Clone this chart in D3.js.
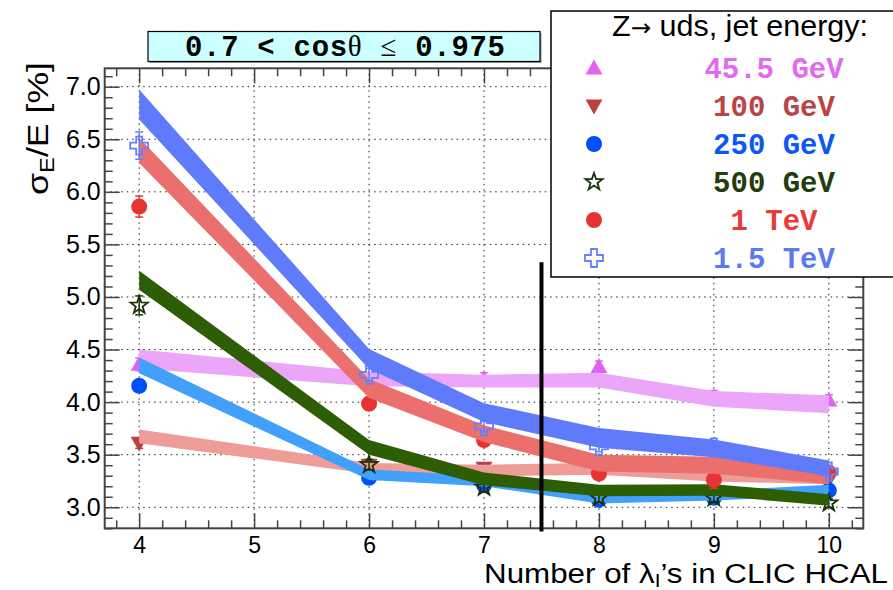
<!DOCTYPE html>
<html><head><meta charset="utf-8">
<script src="https://cdn.jsdelivr.net/npm/d3@7"></script>
<style>body{margin:0;background:#fff;} svg{display:block;}</style>
</head><body>
<svg id="c" width="893" height="590"></svg>
<script>
// ---------------- data ----------------
const xs = [4, 6, 7, 8, 9, 10];
const energyLabels = ["45.5 GeV", "100 GeV", "250 GeV", "500 GeV", "1 TeV", "1.5 TeV"];

// measured points (markers) and their errors
const pts45   = [4.36, 4.18, 4.22, 4.34, 4.05, 4.02];
const pts100  = [3.61, 3.40, 3.37, 3.33, 3.29, 3.26];
const pts250  = [4.155, 3.28, 3.21, 3.07, 3.09, 3.16];
const pts500  = [4.92, 3.405, 3.19, 3.09, 3.09, 3.04];
const pts1000 = [5.86, 3.985, 3.64, 3.32, 3.26, 3.33];
const pts1500 = [6.44, 4.26, 3.77, 3.58, 3.57, 3.34];

const err45   = [0.06, 0.05, 0.06, 0.05, 0.06, 0.05];
const err100  = [0.05, 0.04, 0.04, 0.04, 0.04, 0.04];
const err250  = [0.05, 0.04, 0.04, 0.04, 0.04, 0.04];
const err500  = [0.09, 0.05, 0.04, 0.04, 0.04, 0.04];
const err1000 = [0.10, 0.06, 0.05, 0.05, 0.08, 0.05];
const err1500 = [0.13, 0.06, 0.05, 0.05, 0.05, 0.05];

// bands: centre values and half widths
const band45   = [4.41, 4.22, 4.20, 4.21, 4.03, 3.98];
const hw45     = [0.09, 0.07, 0.06, 0.07, 0.075, 0.085];
const band100  = [3.675, 3.37, 3.35, 3.365, 3.30, 3.27];
const hw100    = [0.065, 0.05, 0.055, 0.055, 0.055, 0.05];
const band250  = [4.35, 3.31, 3.25, 3.08, 3.11, 3.165];
const hw250    = [0.075, 0.05, 0.05, 0.045, 0.045, 0.05];
const band500  = [5.16, 3.57, 3.27, 3.16, 3.165, 3.07];
const hw500    = [0.09, 0.07, 0.06, 0.055, 0.055, 0.055];
const band1000 = [6.395, 4.13, 3.70, 3.42, 3.40, 3.29];
const hw1000   = [0.12, 0.09, 0.08, 0.08, 0.08, 0.07];
const band1500 = [6.83, 4.41, 3.90, 3.66, 3.56, 3.37];
const hw1500   = [0.143, 0.095, 0.09, 0.095, 0.085, 0.075];

const xTicks = [4, 5, 6, 7, 8, 9, 10];
const yTicks = [3.0, 3.5, 4.0, 4.5, 5.0, 5.5, 6.0, 6.5, 7.0];
const yTickLabels = ["3.0", "3.5", "4.0", "4.5", "5.0", "5.5", "6.0", "6.5", "7.0"];

const cutX = 7.5, cutTop = 5.33, cutBottom = 2.77;

// ---------------- styles ----------------
const series = [
  {pts: pts45,   err: err45,   band: band45,   hw: hw45,   marker: "tri",   mc: "#e262f2", bc: "#eba6f9", tc: "#e26af0"},
  {pts: pts100,  err: err100,  band: band100,  hw: hw100,  marker: "itri",  mc: "#b94141", bc: "#ee9c98", tc: "#b84646"},
  {pts: pts250,  err: err250,  band: band250,  hw: hw250,  marker: "circ",  mc: "#0050f8", bc: "#40a0fa", tc: "#0d58f2"},
  {pts: pts500,  err: err500,  band: band500,  hw: hw500,  marker: "star",  mc: "#1a3208", bc: "#2d5e06", tc: "#233d0c"},
  {pts: pts1000, err: err1000, band: band1000, hw: hw1000, marker: "circ",  mc: "#e63434", bc: "#eb6f6c", tc: "#e83a3a"},
  {pts: pts1500, err: err1500, band: band1500, hw: hw1500, marker: "cross", mc: "#6680ff", bc: "#5f7bfb", tc: "#5c79f2"}
];

const svg = d3.select("#c");
const x = d3.scaleLinear().domain([3.7, 10.3]).range([104.7, 863.3]);
const y = d3.scaleLinear().domain([2.8, 7.175]).range([528.3, 68.3]);
const [X0, X1] = x.range(), [Y0, Y1] = y.range();

// grid
const grid = svg.append("g").attr("stroke", "#222").attr("stroke-width", 1).attr("stroke-dasharray", "1.5,4");
grid.selectAll(".gx").data(xTicks).join("line")
  .attr("x1", d => x(d)).attr("x2", d => x(d)).attr("y1", Y1).attr("y2", Y0);
grid.selectAll(".gy").data(yTicks).join("line")
  .attr("y1", d => y(d)).attr("y2", d => y(d)).attr("x1", X0).attr("x2", X1);

// axes
const xMinor = d3.range(3.8, 10.25, 0.2).filter(v => Math.abs(v - Math.round(v)) > 0.01);
const yMinor = d3.range(2.8, 7.15, 0.1).filter(v => Math.abs(v * 2 - Math.round(v * 2)) > 0.01);
const tickCol = "#444";
const sans = "'Liberation Sans', Arial, sans-serif";
function styleAxis(size) {
  return g => {
    g.select(".domain").remove();
    g.selectAll("line").attr("stroke", tickCol).attr("stroke-width", 1.5);
    g.selectAll("text").attr("font-family", sans).attr("font-size", size).attr("fill", "#000");
  };
}
svg.append("g").attr("transform", `translate(0,${Y0})`)
  .call(d3.axisBottom(x).tickValues(xTicks).tickFormat(d3.format("d")).tickSizeInner(-15).tickSizeOuter(0).tickPadding(8)).call(styleAxis(23));
svg.append("g").attr("transform", `translate(0,${Y0})`)
  .call(d3.axisBottom(x).tickValues(xMinor).tickFormat("").tickSizeInner(-8).tickSizeOuter(0)).call(styleAxis(23));
svg.append("g").attr("transform", `translate(0,${Y1})`)
  .call(d3.axisTop(x).tickValues(xTicks).tickFormat("").tickSizeInner(-15).tickSizeOuter(0)).call(styleAxis(23));
svg.append("g").attr("transform", `translate(0,${Y1})`)
  .call(d3.axisTop(x).tickValues(xMinor).tickFormat("").tickSizeInner(-8).tickSizeOuter(0)).call(styleAxis(23));
svg.append("g").attr("transform", `translate(${X0},0)`)
  .call(d3.axisLeft(y).tickValues(yTicks).tickFormat((d, i) => yTickLabels[i]).tickSizeInner(-15).tickSizeOuter(0).tickPadding(4)).call(styleAxis(25));
svg.append("g").attr("transform", `translate(${X0},0)`)
  .call(d3.axisLeft(y).tickValues(yMinor).tickFormat("").tickSizeInner(-8).tickSizeOuter(0)).call(styleAxis(25));
svg.append("g").attr("transform", `translate(${X1},0)`)
  .call(d3.axisRight(y).tickValues(yTicks).tickFormat("").tickSizeInner(-15).tickSizeOuter(0)).call(styleAxis(25));
svg.append("g").attr("transform", `translate(${X1},0)`)
  .call(d3.axisRight(y).tickValues(yMinor).tickFormat("").tickSizeInner(-8).tickSizeOuter(0)).call(styleAxis(25));

// marker shapes
function markerPath(type) {
  if (type === "tri") return "M0,-8.5L8.5,6.5L-8.5,6.5Z";
  if (type === "itri") return "M0,8.5L8.5,-6.5L-8.5,-6.5Z";
  if (type === "circ") return d3.symbol(d3.symbolCircle, Math.PI * 8 * 8)();
  if (type === "cross") return "M-3,-9H3V-3H9V3H3V9H-3V3H-9V-3H-3Z";
  if (type === "star") {
    const p = [];
    for (let k = 0; k < 10; k++) {
      const r = k % 2 ? 3.6 : 9, a = -Math.PI / 2 + k * Math.PI / 5;
      p.push([r * Math.cos(a), r * Math.sin(a)]);
    }
    return "M" + p.map(q => q.join(",")).join("L") + "Z";
  }
}
function drawMarker(g, type, col, cx, cy) {
  const open = type === "star" || type === "cross";
  g.append("path").attr("d", markerPath(type)).attr("transform", `translate(${cx},${cy})`)
    .attr("fill", open ? "none" : col).attr("stroke", open ? col : "none").attr("stroke-width", open ? 1.8 : 0);
}

const area = d3.area().x(d => x(d.x)).y0(d => y(d.c - d.h)).y1(d => y(d.c + d.h));
const plot = svg.append("g");
series.forEach(s => {
  const g = plot.append("g");
  xs.forEach((xv, i) => {
    const cx = x(xv), v = s.pts[i], e = s.err[i];
    g.append("line").attr("x1", cx).attr("x2", cx).attr("y1", y(v - e)).attr("y2", y(v + e)).attr("stroke", s.mc).attr("stroke-width", 1.5);
    [v - e, v + e].forEach(t => g.append("line").attr("x1", cx - 4).attr("x2", cx + 4).attr("y1", y(t)).attr("y2", y(t)).attr("stroke", s.mc).attr("stroke-width", 1.5));
    drawMarker(g, s.marker, s.mc, cx, y(v));
  });
  const bd = xs.map((xv, i) => ({x: xv, c: s.band[i], h: s.hw[i]}));
  g.append("path").attr("d", area(bd)).attr("fill", s.bc);
});

// frame
svg.append("rect").attr("x", X0).attr("y", Y1).attr("width", X1 - X0).attr("height", Y0 - Y1)
  .attr("fill", "none").attr("stroke", "#444").attr("stroke-width", 2);

// vertical cut line
svg.append("line").attr("x1", x(cutX)).attr("x2", x(cutX)).attr("y1", y(cutTop)).attr("y2", y(cutBottom))
  .attr("stroke", "#000").attr("stroke-width", 4);

// axis titles
const xt = svg.append("text").attr("x", 888).attr("y", 583).attr("text-anchor", "end")
  .attr("font-family", sans).attr("font-size", 27).attr("fill", "#000")
  .attr("textLength", 404).attr("lengthAdjust", "spacingAndGlyphs");
xt.append("tspan").text("Number of λ");
xt.append("tspan").attr("font-size", 18).attr("dy", 4).text("I");
xt.append("tspan").attr("dy", -4).text("’s in CLIC HCAL");

const yt = svg.append("text").attr("transform", "translate(48,62) rotate(-90)").attr("text-anchor", "end")
  .attr("font-family", sans).attr("font-size", 30).attr("fill", "#000")
  .attr("textLength", 133).attr("lengthAdjust", "spacingAndGlyphs");
yt.append("tspan").text("σ");
yt.append("tspan").attr("font-size", 20).attr("dy", 6).text("E");
yt.append("tspan").attr("dy", -6).text("/E [%]");

// title box
svg.append("rect").attr("x", 149.5).attr("y", 33).attr("width", 392).attr("height", 30).attr("fill", "#999");
svg.append("rect").attr("x", 148).attr("y", 31.5).attr("width", 392).attr("height", 30)
  .attr("fill", "#ccffff").attr("stroke", "#000").attr("stroke-width", 1.2);
const mono = "'Liberation Mono', 'Courier New', monospace";
const tt = svg.append("text").attr("x", 345).attr("y", 56).attr("text-anchor", "middle")
  .attr("font-family", mono).attr("font-weight", "bold").attr("font-size", 29).attr("fill", "#000")
  .attr("xml:space", "preserve").attr("textLength", 320).attr("lengthAdjust", "spacing");
tt.append("tspan").text("0.7 < cos");
tt.append("tspan").attr("font-family", "'Liberation Serif', serif").attr("font-weight", "normal").text("θ");
tt.append("tspan").text(" ");
tt.append("tspan").attr("font-family", "'Liberation Serif', serif").attr("font-weight", "normal").text("≤");
tt.append("tspan").text(" 0.975");

// legend
svg.append("rect").attr("x", 551).attr("y", 11).attr("width", 360).attr("height", 266)
  .attr("fill", "#fff").attr("stroke", "#000").attr("stroke-width", 1.5);
const lh = svg.append("text").attr("x", 740).attr("y", 36).attr("text-anchor", "middle")
  .attr("font-family", sans).attr("font-size", 30).attr("fill", "#000")
  .attr("textLength", 256).attr("lengthAdjust", "spacingAndGlyphs");
lh.append("tspan").text("Z");
lh.append("tspan").attr("font-family", "'DejaVu Sans', sans-serif").attr("font-size", 24).text("→");
lh.append("tspan").text(" uds, jet energy:");

series.forEach((s, i) => {
  const ly = 68 + i * 38;
  drawMarker(svg, s.marker, s.mc, 594, ly);
  svg.append("text").attr("x", 774).attr("y", ly + 10).attr("text-anchor", "middle")
    .attr("font-family", mono).attr("font-weight", "bold").attr("font-size", 29).attr("fill", s.tc)
    .text(energyLabels[i]);
});
</script>
</body></html>
